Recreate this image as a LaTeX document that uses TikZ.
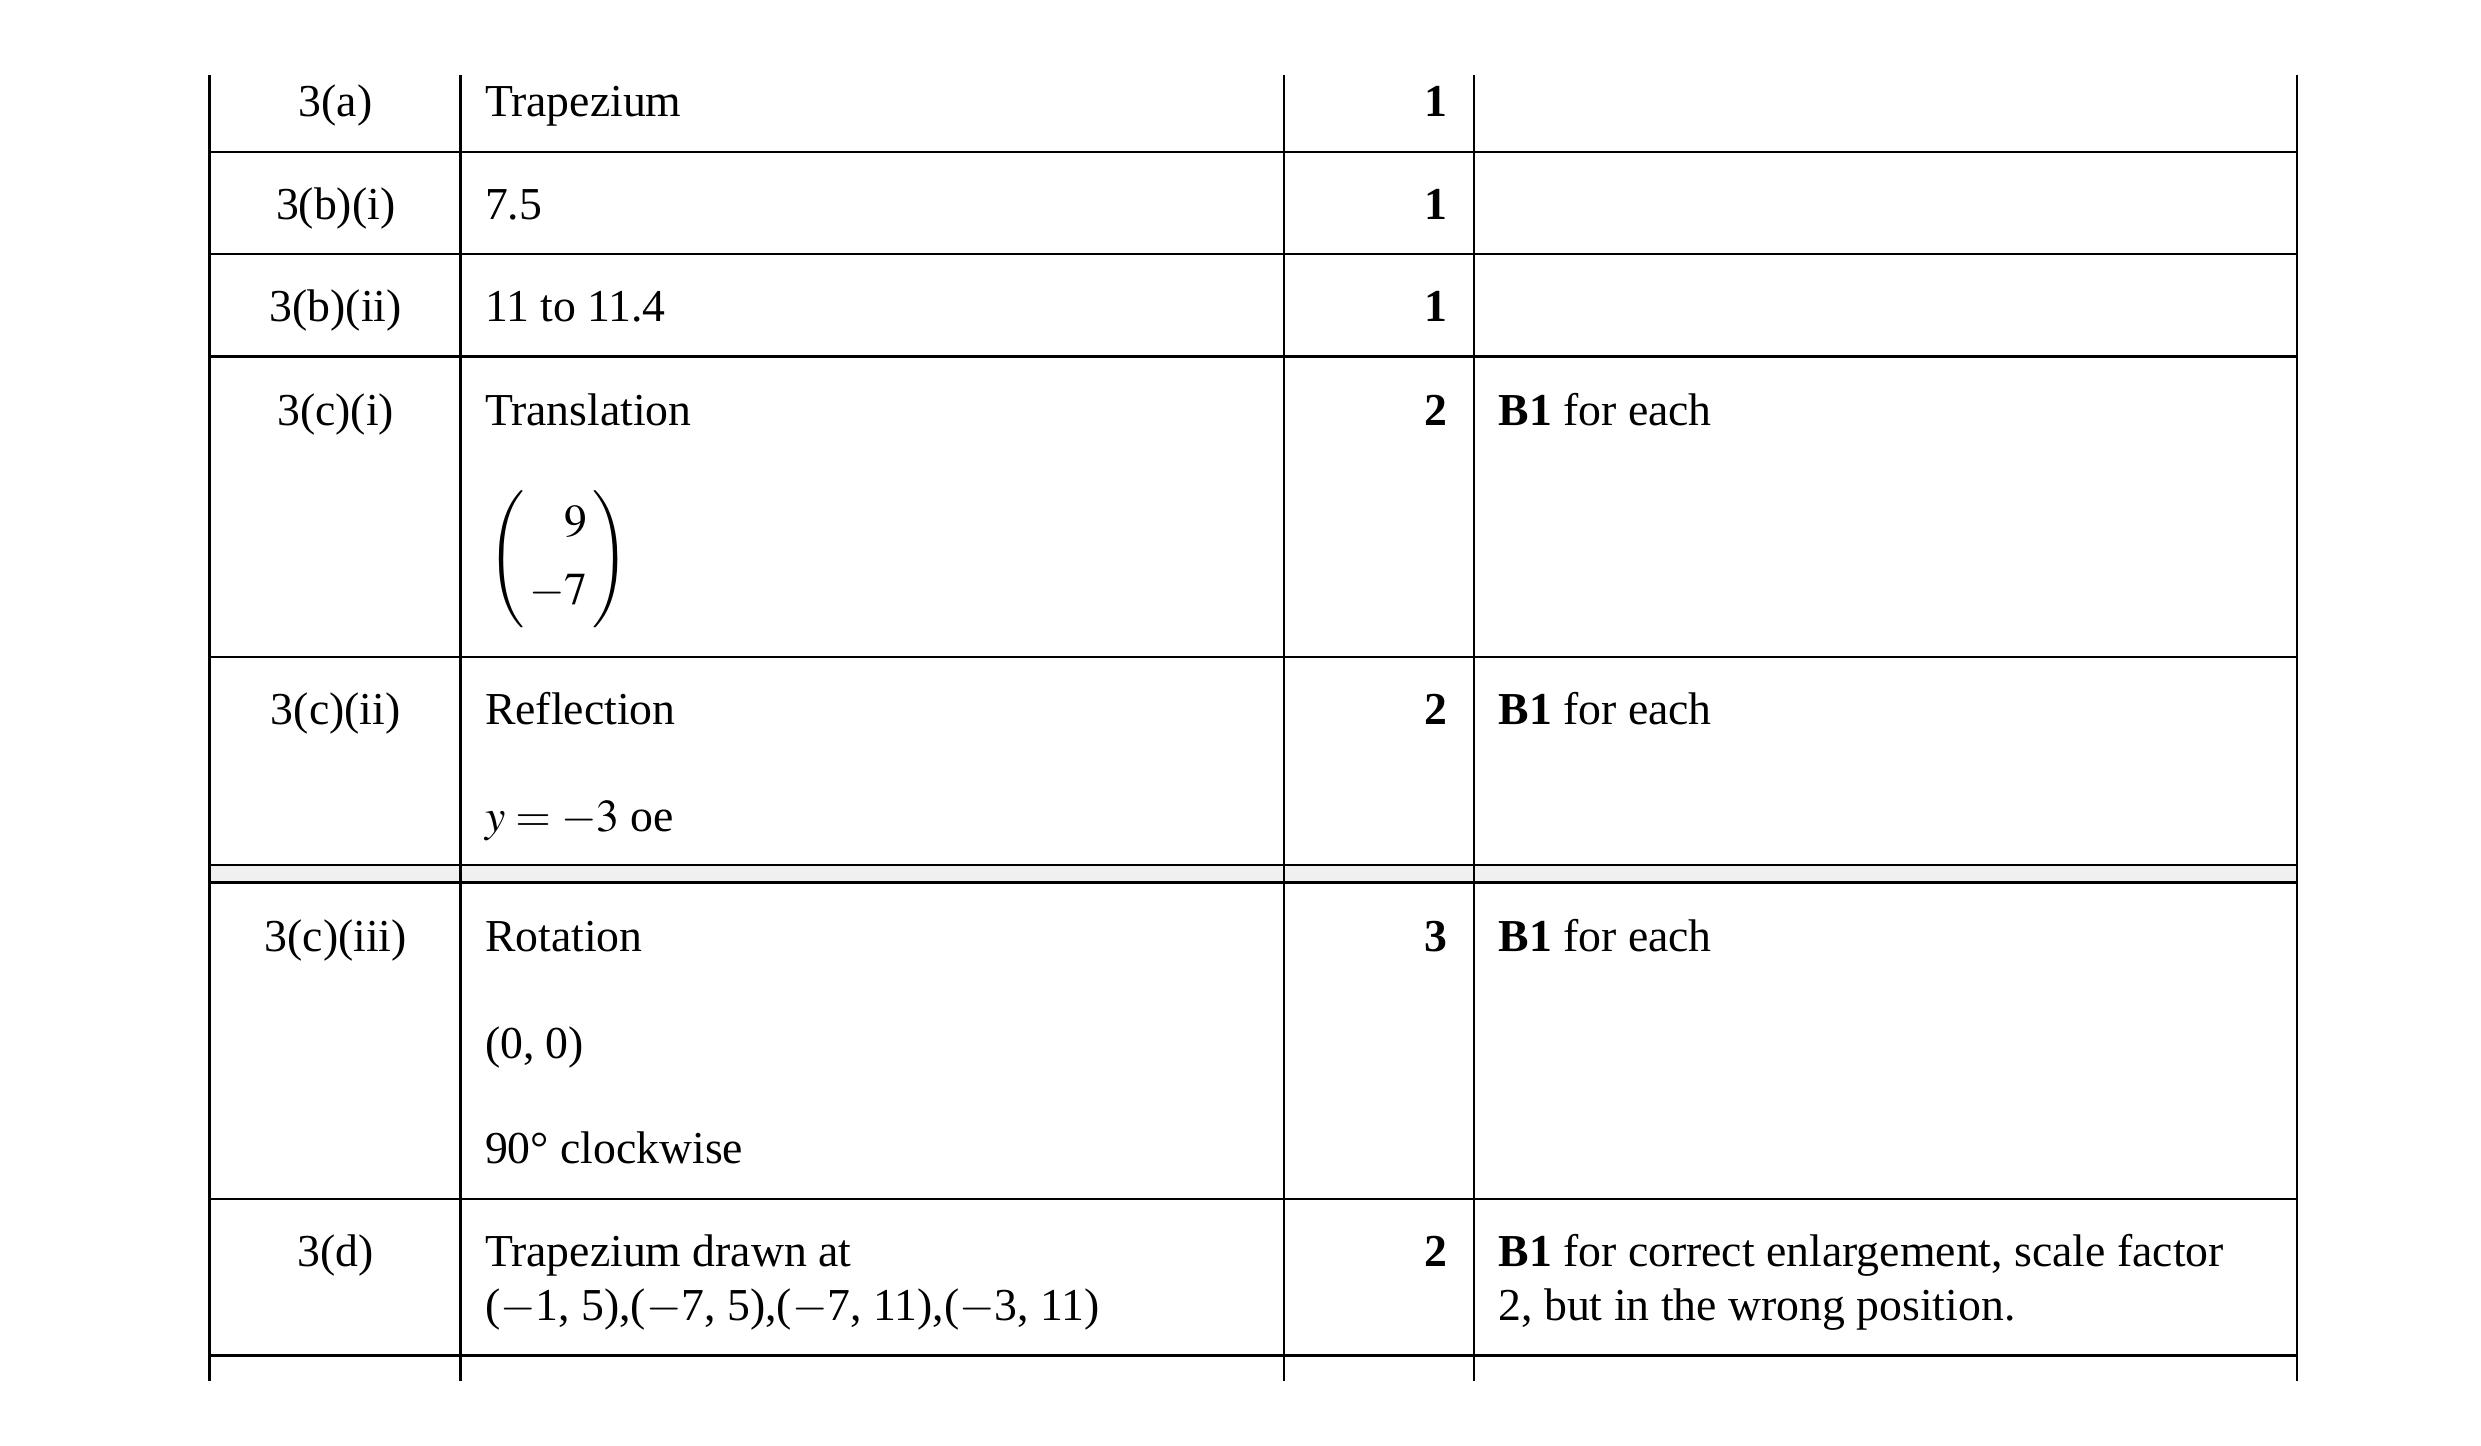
\documentclass[tikz,border=0pt]{standalone}
\usepackage{mathptmx}
\usepackage{fontspec}
\setmainfont{Liberation Serif}
\tikzset{%
  rule/.style     = {line width=0.7pt},%
  part/.style     = {anchor=base, inner sep=0pt},%
  answer/.style   = {anchor=base west, inner sep=0pt, align=left},%
  score/.style    = {anchor=base east, inner sep=0pt, font=\fontsize{14.3}{17.2}\selectfont\bfseries},%
  note/.style     = {anchor=base west, inner sep=0pt, align=left}%
}
\begin{document}
\begin{tikzpicture}[x=0.5pt,y=-0.5pt,
	every node/.style={font=\fontsize{14.3}{17.2}\selectfont}]%
	\useasboundingbox (0,0) rectangle (1552,904);
	% shaded double rule
	\fill[black!6] (131,541) rectangle (1437,552);
	% horizontal rules
	\foreach \y in {95,159,223,411,541,552,750,848}
		\draw[rule] (131,\y) -- (1437,\y);
	% vertical rules
	\foreach \x in {131,288,803,922,1437}
		\draw[rule] (\x,47) -- (\x,864);
	% question parts
	\node[part] (p1) at (210,73)  {3(a)};
	\node[part] (p2) at (210,137) {3(b)(i)};
	\node[part] (p3) at (210,201) {3(b)(ii)};
	\node[part] (p4) at (210,266) {3(c)(i)};
	\node[part] (p5) at (210,453) {3(c)(ii)};
	\node[part] (p6) at (210,595) {3(c)(iii)};
	\node[part] (p7) at (210,792) {3(d)};
	% answers
	\node[answer] (a1) at (303,73)  {Trapezium};
	\node[answer] (a2) at (303,137) {7.5};
	\node[answer] (a3) at (303,201) {11 to 11.4};
	\node[answer] (a4) at (303,266) {Translation};
	\node[anchor=west, inner sep=0pt] (a4v) at (305,350)
		{$\left(\begin{array}{@{\,}r@{\,}}9\\[4pt]-7\end{array}\right)$};
	\node[answer] (a5) at (303,453) {Reflection};
	\node[answer] (a5b) at (303,520) {$y=-3$ oe};
	\node[answer] (a6) at (303,595) {Rotation};
	\node[answer] (a6b) at (303,662) {(0, 0)};
	\node[answer] (a6c) at (303,728) {90° clockwise};
	\node[answer] (a7) at (303,792) {Trapezium drawn at};
	\node[answer] (a7b) at (303,826) {($-$1, 5),($-$7, 5),($-$7, 11),($-$3, 11)};
	% marks
	\foreach \y/\m in {73/1,137/1,201/1,266/2,453/2,595/3,792/2}
		\node[score] at (906,\y) {\m};
	% guidance
	\node[note] (g4) at (937,266) {\textbf{B1} for each};
	\node[note] (g5) at (937,453) {\textbf{B1} for each};
	\node[note] (g6) at (937,595) {\textbf{B1} for each};
	\node[note] (g7) at (937,792) {\textbf{B1} for correct enlargement, scale factor};
	\node[note] (g7b) at (937,826) {2, but in the wrong position.};
\end{tikzpicture}
\end{document}
